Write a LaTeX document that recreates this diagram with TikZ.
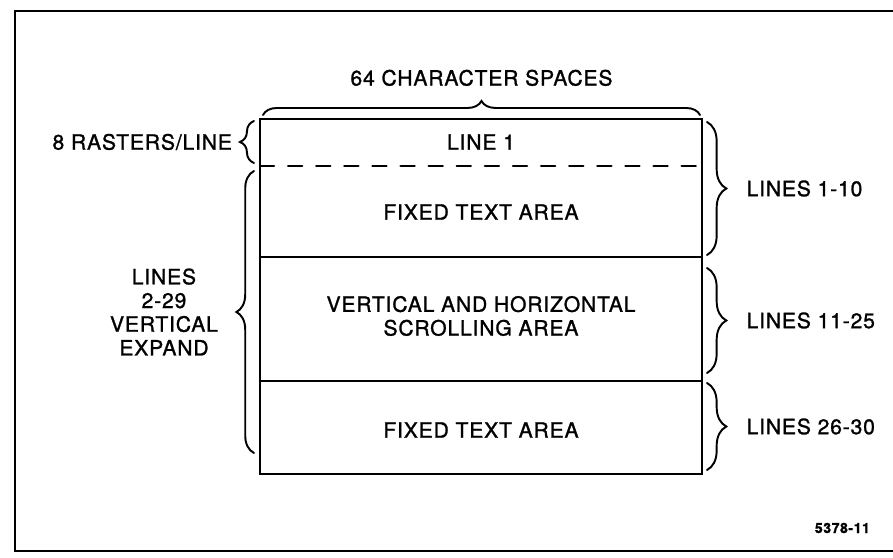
\documentclass[tikz,border=0pt]{standalone}
\usepackage{fontspec}
\setmainfont{TeX Gyre Heros}[FakeBold=1.2, LetterSpace=4]
\usepackage{tikz}
\usetikzlibrary{decorations.pathreplacing}

\begin{document}
\begin{tikzpicture}[x=0.02cm, y=0.02cm, line cap=round,
    every node/.style={font=\fontsize{12}{13.5}\selectfont, align=center, inner sep=1pt},
    box/.style={line width=1.4pt},
    brc/.style={line width=1.1pt, decorate, decoration={brace, amplitude=#1}}]
    \useasboundingbox (0,0) rectangle (893,558);
    % frame
    \draw[line width=1.6pt] (893,547) -- (15,547) -- (15,7) -- (893,7);

    % screen layout
    \coordinate (tl) at (260,439);
    \coordinate (br) at (702,84);
    \draw[box] (tl) rectangle (br);
    \draw[box, dash pattern=on 8pt off 8pt] (260,392) -- (702,392);
    \draw[box] (260,301) -- (702,301);
    \draw[box] (260,177) -- (702,177);

    \node (line1) at (481,416) {LINE 1};
    \node (fixtop) at (481,346) {FIXED TEXT AREA};
    \node (scroll) at (481,242) {VERTICAL AND HORIZONTAL\\SCROLLING AREA};
    \node (fixbot) at (481,128) {FIXED TEXT AREA};

    % braces
    \draw[brc=8pt] (263,443) -- (700,443) node[midway, above=15pt] (chars) {64 CHARACTER SPACES};
    \draw[brc=8pt] (254,395) -- (254,437) node[midway, left=11pt] (rast) {8 RASTERS/LINE};
    \draw[brc=10pt] (254,105) -- (254,387) node[midway, left=19pt] (expand) {LINES\\2-29\\VERTICAL\\EXPAND};
    \draw[brc=11pt] (707,436) -- (707,303) node[midway, right=21pt] (r1) {LINES 1-10};
    \draw[brc=11pt] (707,290) -- (707,185) node[midway, right=21pt] (r2) {LINES 11-25};
    \draw[brc=11pt] (707,175) -- (707,88) node[midway, right=21pt] (r3) {LINES 26-30};

    \node[anchor=east, font=\fontsize{8}{9}\selectfont\bfseries] (fig) at (872,30) {5378-11};
\end{tikzpicture}
\end{document}
